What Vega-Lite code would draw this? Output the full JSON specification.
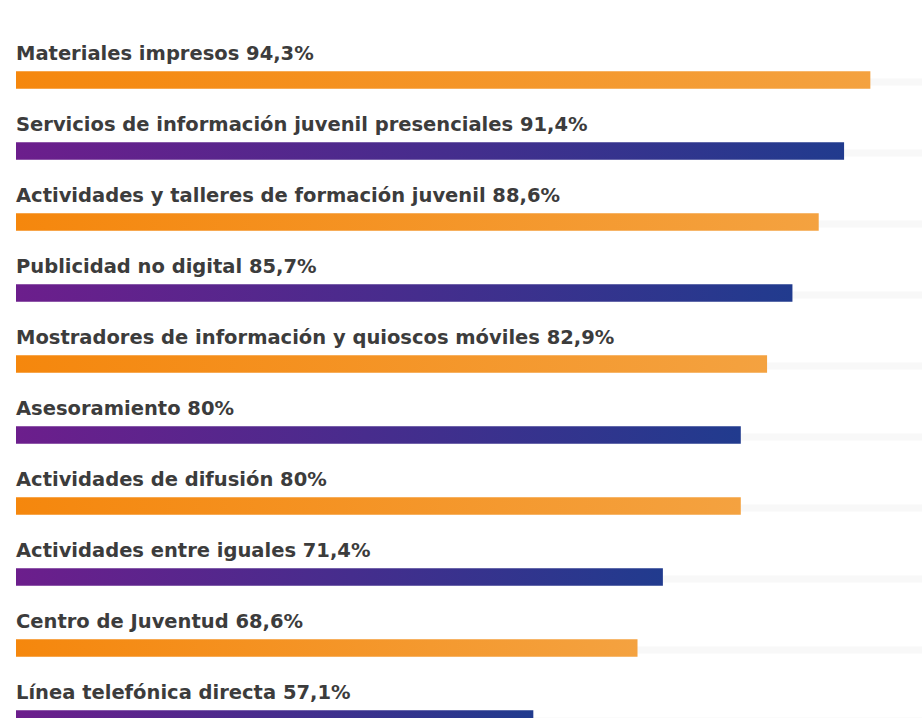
{
  "$schema": "https://vega.github.io/schema/vega-lite/v6.json",
  "width": 906,
  "height": 710,
  "autosize": {"type": "none"},
  "padding": {"left": 16, "top": 44.5, "right": 0, "bottom": 0},
  "background": "#ffffff",
  "config": {"view": {"stroke": null}},
  "data": {
    "values": [
      {"name": "Materiales impresos", "value": 94.3, "label": "Materiales impresos 94,3%", "group": "orange"},
      {"name": "Servicios de información juvenil presenciales", "value": 91.4, "label": "Servicios de información juvenil presenciales 91,4%", "group": "purple"},
      {"name": "Actividades y talleres de formación juvenil", "value": 88.6, "label": "Actividades y talleres de formación juvenil 88,6%", "group": "orange"},
      {"name": "Publicidad no digital", "value": 85.7, "label": "Publicidad no digital 85,7%", "group": "purple"},
      {"name": "Mostradores de información y quioscos móviles", "value": 82.9, "label": "Mostradores de información y quioscos móviles 82,9%", "group": "orange"},
      {"name": "Asesoramiento", "value": 80, "label": "Asesoramiento 80%", "group": "purple"},
      {"name": "Actividades de difusión", "value": 80, "label": "Actividades de difusión 80%", "group": "orange"},
      {"name": "Actividades entre iguales", "value": 71.4, "label": "Actividades entre iguales 71,4%", "group": "purple"},
      {"name": "Centro de Juventud", "value": 68.6, "label": "Centro de Juventud 68,6%", "group": "orange"},
      {"name": "Línea telefónica directa", "value": 57.1, "label": "Línea telefónica directa 57,1%", "group": "purple"}
    ]
  },
  "encoding": {
    "y": {
      "field": "name",
      "type": "nominal",
      "sort": null,
      "scale": {"paddingInner": 0, "paddingOuter": 0},
      "axis": null
    }
  },
  "layer": [
    {
      "mark": {"type": "bar", "height": 7, "yOffset": 2, "color": "#f8f8f8"},
      "encoding": {
        "x": {"datum": 100, "type": "quantitative", "scale": {"domain": [0, 100]}, "axis": null},
        "x2": {"datum": 0}
      }
    },
    {
      "transform": [{"filter": "datum.group === 'orange'"}],
      "mark": {
        "type": "bar",
        "height": 17.5,
        "color": {
          "gradient": "linear",
          "x1": 0, "x2": 1, "y1": 0, "y2": 0,
          "stops": [
            {"offset": 0, "color": "#f5870d"},
            {"offset": 1, "color": "#f4a240"}
          ]
        }
      },
      "encoding": {
        "x": {"field": "value", "type": "quantitative", "scale": {"domain": [0, 100]}, "axis": null}
      }
    },
    {
      "transform": [{"filter": "datum.group === 'purple'"}],
      "mark": {
        "type": "bar",
        "height": 17.5,
        "color": {
          "gradient": "linear",
          "x1": 0, "x2": 1, "y1": 0, "y2": 0,
          "stops": [
            {"offset": 0, "color": "#6c1e8c"},
            {"offset": 1, "color": "#213b8e"}
          ]
        }
      },
      "encoding": {
        "x": {"field": "value", "type": "quantitative", "scale": {"domain": [0, 100]}, "axis": null}
      }
    },
    {
      "mark": {
        "type": "text",
        "align": "left",
        "baseline": "alphabetic",
        "dy": -20.5,
        "font": "DejaVu Sans",
        "fontWeight": "bold",
        "fontSize": 19.5,
        "color": "#3c3c3c"
      },
      "encoding": {
        "x": {"datum": 0, "type": "quantitative", "scale": {"domain": [0, 100]}, "axis": null},
        "text": {"field": "label"}
      }
    }
  ]
}
